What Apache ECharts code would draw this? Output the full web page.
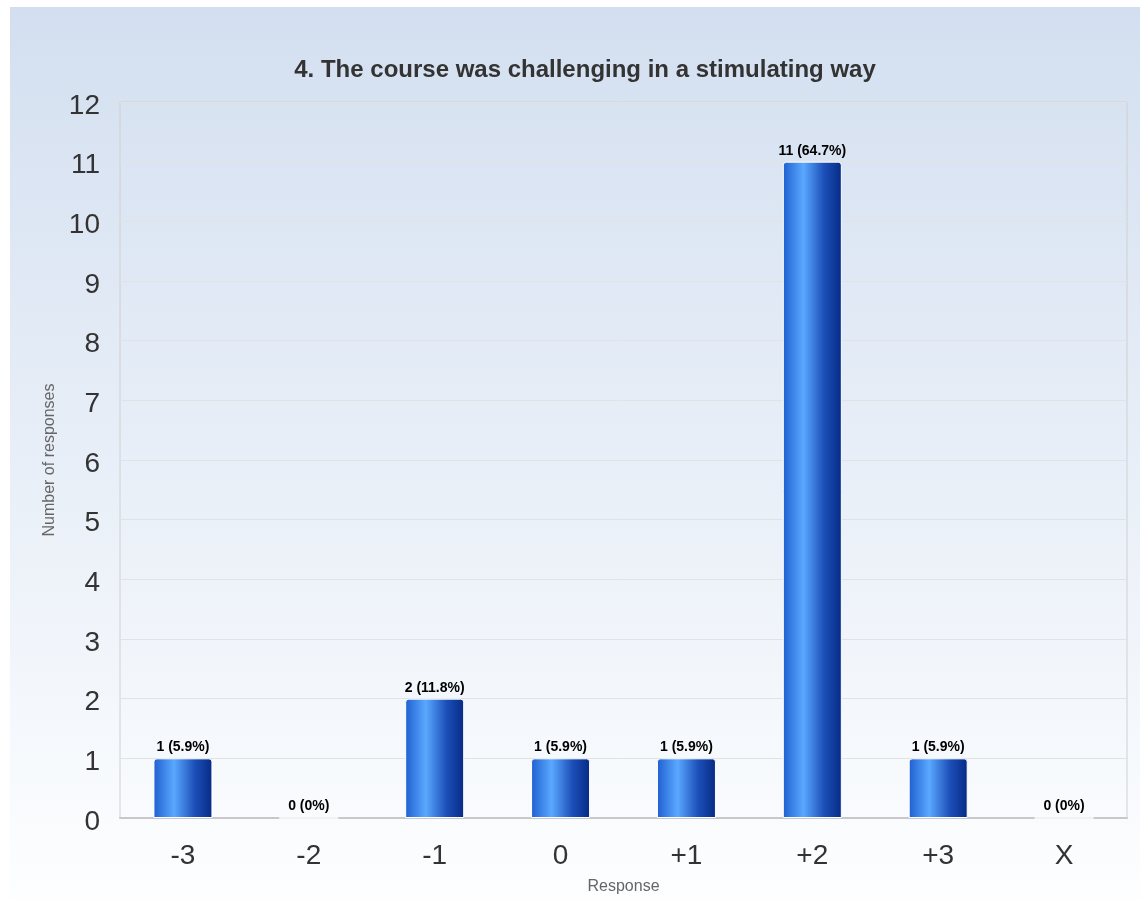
<!DOCTYPE html>
<html><head><meta charset="utf-8">
<script src="https://cdn.jsdelivr.net/npm/echarts@6/dist/echarts.min.js"></script>
<style>html,body{margin:0;padding:0;background:#fff}#c{width:1144px;height:900px}</style>
</head><body><div id="c"></div>
<script>
const categories = ['-3','-2','-1','0','+1','+2','+3','X'];
const counts = [1,0,2,1,1,11,1,0];
const percents = ['5.9%','0%','11.8%','5.9%','5.9%','64.7%','5.9%','0%'];
const yTicks = [0,1,2,3,4,5,6,7,8,9,10,11,12];
const titleText = '4. The course was challenging in a stimulating way';

const chart = echarts.init(document.getElementById('c'));
const barGrad = new echarts.graphic.LinearGradient(0,0,1,0,[
  {offset:0,color:'#1f5fcf'},{offset:0.35,color:'#5aa8ff'},{offset:0.7,color:'#1c4fb8'},{offset:1,color:'#062a85'}]);
chart.setOption({
  backgroundColor:'#ffffff',
  graphic:[{type:'rect',z:-10,silent:true,shape:{x:10,y:7,width:1130,height:893},
    style:{fill:new echarts.graphic.LinearGradient(0,0,0,1,[{offset:0,color:'#d3dff0'},{offset:1,color:'#fdfeff'}])}}],
  title:{text:titleText,left:580,top:53,textAlign:'center',
    textStyle:{fontFamily:'Liberation Sans, Arial',fontSize:24,fontWeight:'bold',color:'#333'}},
  grid:{left:120,right:17,top:102,bottom:76,show:true,borderColor:'#d0d0d0',borderWidth:1,backgroundColor:'transparent'},
  xAxis:{type:'category',data:categories,name:'Response',nameLocation:'middle',nameGap:61,
    nameTextStyle:{fontFamily:'Liberation Sans, Arial',fontSize:16,color:'#666'},
    axisLine:{lineStyle:{color:'#c8c8c8',width:2}},axisTick:{show:false},
    axisLabel:{fontFamily:'Liberation Sans, Arial',fontSize:28,color:'#333',margin:24}},
  yAxis:{type:'value',min:0,max:12,interval:1,name:'Number of responses',nameLocation:'middle',nameGap:60,
    nameTextStyle:{fontFamily:'Liberation Sans, Arial',fontSize:16,color:'#666'},
    axisLine:{show:false},axisTick:{show:false},
    axisLabel:{fontFamily:'Liberation Sans, Arial',fontSize:28,color:'#333',margin:20,
      formatter:v=>yTicks.includes(v)?'{a|'+v+'}':'',
      rich:{a:{fontFamily:'Liberation Sans, Arial',fontSize:28,color:'#333',padding:[8,0,0,0]}}},
    splitLine:{lineStyle:{color:'#e2e2e2'}}},
  series:[{type:'bar',data:counts,barWidth:59,
    itemStyle:{color:barGrad,borderRadius:[3,3,0,0],borderColor:'#ffffff',borderWidth:1},
    label:{show:true,position:'top',distance:4,fontFamily:'Liberation Sans, Arial',fontSize:14,fontWeight:'bold',color:'#000',
      formatter:p=>counts[p.dataIndex]+' ('+percents[p.dataIndex]+')'}}]
});
</script></body></html>
